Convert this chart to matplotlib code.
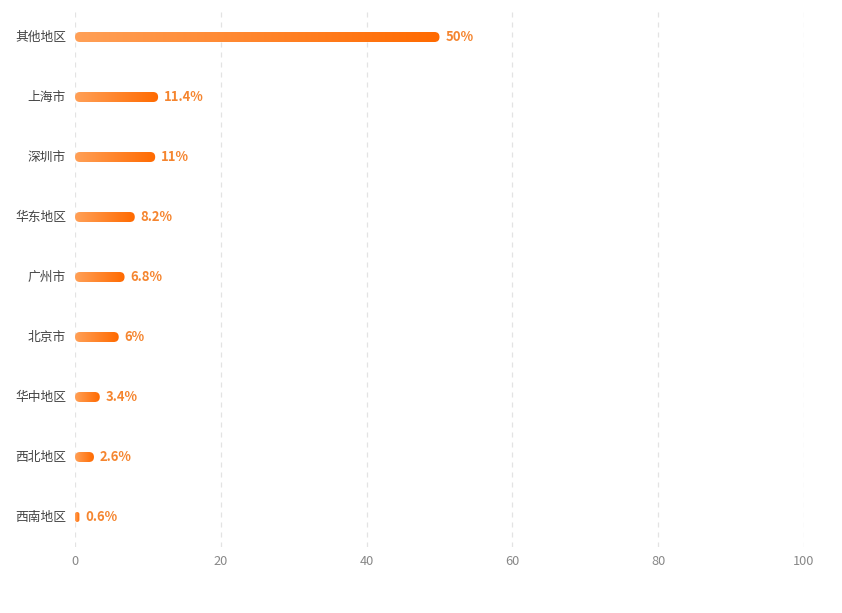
import numpy as np
import matplotlib
matplotlib.use("Agg")
import matplotlib.pyplot as plt
from matplotlib.patches import FancyBboxPatch
from matplotlib.colors import LinearSegmentedColormap
from matplotlib.transforms import ScaledTranslation, blended_transform_factory

plt.rcParams['font.family'] = ['Noto Sans CJK SC', 'DejaVu Sans']

regions = ["其他地区", "上海市", "深圳市", "华东地区", "广州市", "北京市", "华中地区", "西北地区", "西南地区"]
shares = [50, 11.4, 11, 8.2, 6.8, 6, 3.4, 2.6, 0.6]
x_ticks = [0, 20, 40, 60, 80, 100]

W, H = 842, 613
fig = plt.figure(figsize=(W / 100, H / 100), dpi=100)
ax_left, ax_right, ax_top, ax_bottom = 75, 804, 7, 547
ax = fig.add_axes([ax_left / W, 1 - ax_bottom / H,
                   (ax_right - ax_left) / W, (ax_bottom - ax_top) / H])

n = len(regions)
ax.set_xlim(0, 100)
ax.set_ylim(n - 0.5, -0.5)

# pixel -> data scale factors for rounded bar ends
px_x = 100 / (ax_right - ax_left)
px_y = n / (ax_bottom - ax_top)
bar_h_px = 10
bar_h = bar_h_px * px_y
rx = (bar_h_px / 2) * px_x
aspect = px_y / px_x

cmap = LinearSegmentedColormap.from_list("bar", ["#ffa057", "#ff6a00"])
grad = np.linspace(0, 1, 256).reshape(1, -1)

for i, v in enumerate(shares):
    r = min(rx, v / 2)
    patch = FancyBboxPatch((0, i - bar_h / 2), v, bar_h,
                           boxstyle=f"round,pad=0,rounding_size={r}",
                           mutation_aspect=aspect,
                           facecolor="none", edgecolor="none", zorder=3)
    ax.add_patch(patch)
    im = ax.imshow(grad, cmap=cmap, aspect="auto",
                   extent=(0, v, i + bar_h / 2, i - bar_h / 2),
                   interpolation="bilinear", zorder=3)
    im.set_clip_path(patch)
    ax.text(v + 6 * px_x, i, f"{v:g}%", va="center", ha="left",
            fontsize=9.4, color="#f5852f", fontweight="bold", zorder=4)

# category names, right-aligned just left of the axis
name_tf = blended_transform_factory(ax.transAxes, ax.transData) + \
    ScaledTranslation(-9 / 100, 0, fig.dpi_scale_trans)
for i, name in enumerate(regions):
    ax.text(0, i, name, ha="right", va="center", fontsize=9.2,
            color="#444444", transform=name_tf)

ax.set_yticks([])
ax.set_xticks(x_ticks)
ax.set_xticklabels([str(t) for t in x_ticks], fontsize=9.2, color="#888888")
ax.tick_params(axis="both", length=0)
ax.tick_params(axis="x", pad=6)

for t in x_ticks:
    ax.axvline(t, color="#e3e3e3", linewidth=0.9, linestyle=(0, (4, 4)), zorder=1)

for s in ax.spines.values():
    s.set_visible(False)
ax.set_facecolor("white")

fig.savefig("out.png", dpi=100, facecolor="white")
